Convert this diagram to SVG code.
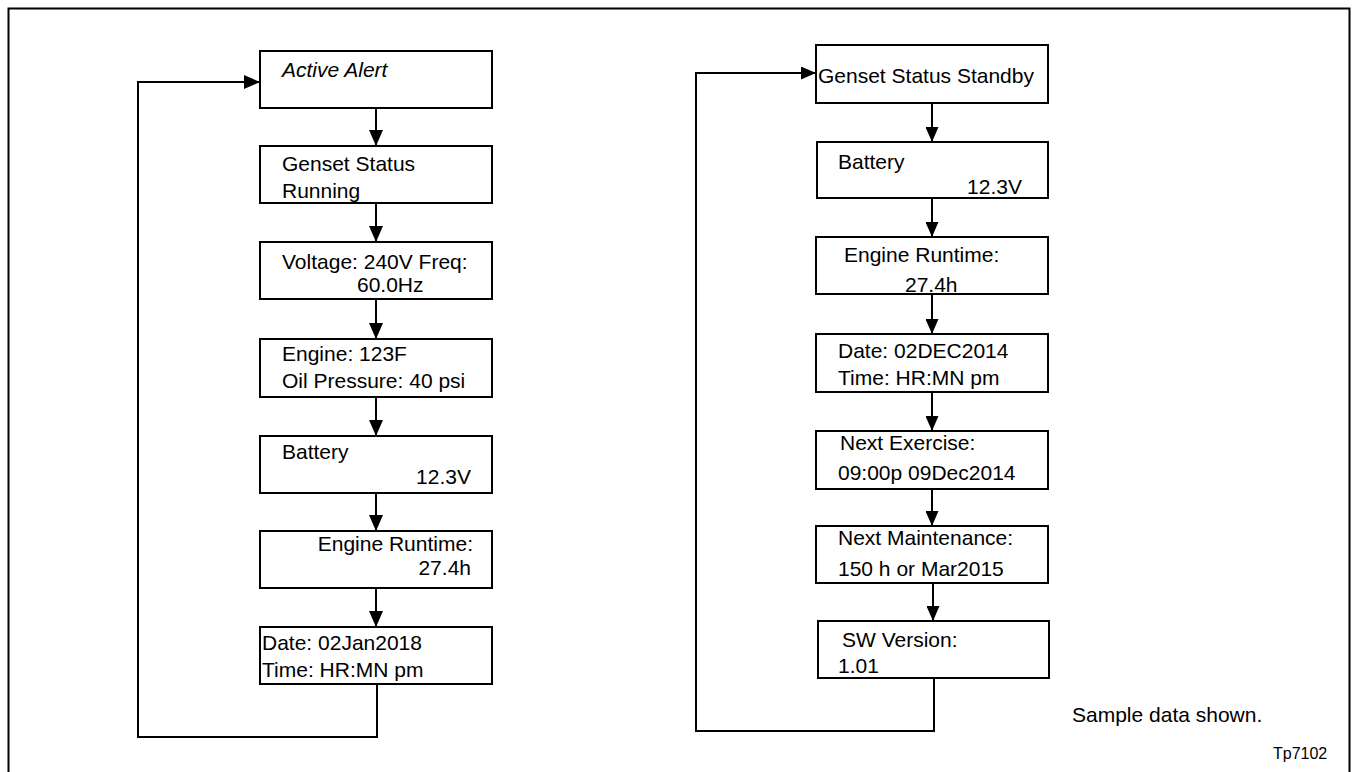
<svg xmlns="http://www.w3.org/2000/svg" width="1354" height="772" viewBox="0 0 1354 772">
<defs>
<style>
.box{fill:#fff;stroke:#000;stroke-width:2}
.t{font-family:"Liberation Sans",Arial,sans-serif;font-size:21px;fill:#000}
.it{font-style:italic}
.e{text-anchor:end}
.c{fill:none;stroke:#000;stroke-width:2}
</style>
<marker id="ah" viewBox="0 0 16 14" refX="16" refY="7" markerWidth="16" markerHeight="14" markerUnits="userSpaceOnUse" orient="auto">
<path d="M0,0 L16,7 L0,14 z" fill="#000"/>
</marker>
<marker id="ahs" viewBox="0 0 15 13" refX="15" refY="6.5" markerWidth="15" markerHeight="13" markerUnits="userSpaceOnUse" orient="auto">
<path d="M0,0 L15,6.5 L0,13 z" fill="#000"/>
</marker>
</defs>
<rect x="0" y="0" width="1354" height="772" fill="#fff"/>
<rect id="frame" x="8.5" y="8.5" width="1341" height="800" fill="none" stroke="#000" stroke-width="2"/>

<g id="connectors">
<path class="c" d="M376,108 V146" marker-end="url(#ah)"/>
<path class="c" d="M376,203 V242" marker-end="url(#ah)"/>
<path class="c" d="M376,299 V339" marker-end="url(#ah)"/>
<path class="c" d="M376,397 V436" marker-end="url(#ah)"/>
<path class="c" d="M376,493 V531" marker-end="url(#ah)"/>
<path class="c" d="M376,588 V627" marker-end="url(#ah)"/>
<path class="c" d="M377,684 V737 H138 V82 H260" marker-end="url(#ah)"/>
<path class="c" d="M932,103 V142" marker-end="url(#ahs)"/>
<path class="c" d="M932,198 V237" marker-end="url(#ahs)"/>
<path class="c" d="M932,294 V334" marker-end="url(#ahs)"/>
<path class="c" d="M932,392 V431" marker-end="url(#ahs)"/>
<path class="c" d="M932,489 V526" marker-end="url(#ahs)"/>
<path class="c" d="M933,583 V621" marker-end="url(#ahs)"/>
<path class="c" d="M934,678 V731 H696 V73 H816" marker-end="url(#ahs)"/>
</g>

<g id="n-active-alert">
<rect class="box" x="260" y="51" width="232" height="57"/>
<text class="t it" x="282" y="77">Active Alert</text>
</g>
<g id="n-genset-running">
<rect class="box" x="260" y="146" width="232" height="57"/>
<text class="t" x="282" y="171">Genset Status</text>
<text class="t" x="282" y="198">Running</text>
</g>
<g id="n-voltage">
<rect class="box" x="260" y="242" width="232" height="57"/>
<text class="t" x="282" y="269">Voltage: 240V Freq:</text>
<text class="t" x="357" y="292">60.0Hz</text>
</g>
<g id="n-engine">
<rect class="box" x="260" y="339" width="232" height="58"/>
<text class="t" x="282" y="361">Engine: 123F</text>
<text class="t" x="282" y="388">Oil Pressure: 40 psi</text>
</g>
<g id="n-battery-l">
<rect class="box" x="260" y="436" width="232" height="57"/>
<text class="t" x="282" y="459">Battery</text>
<text class="t e" x="471" y="484">12.3V</text>
</g>
<g id="n-runtime-l">
<rect class="box" x="260" y="531" width="232" height="57"/>
<text class="t e" x="473" y="551">Engine Runtime:</text>
<text class="t e" x="471" y="575">27.4h</text>
</g>
<g id="n-date-l">
<rect class="box" x="260" y="627" width="232" height="57"/>
<text class="t" x="262" y="650">Date: 02Jan2018</text>
<text class="t" x="262" y="677">Time: HR:MN pm</text>
</g>

<g id="n-genset-standby">
<rect class="box" x="816" y="45" width="232" height="58"/>
<text class="t" x="818" y="83">Genset Status Standby</text>
</g>
<g id="n-battery-r">
<rect class="box" x="817" y="142" width="231" height="56"/>
<text class="t" x="838" y="169">Battery</text>
<text class="t e" x="1022" y="194">12.3V</text>
</g>
<g id="n-runtime-r">
<rect class="box" x="816" y="237" width="232" height="57"/>
<text class="t" x="844" y="262">Engine Runtime:</text>
<text class="t" x="905" y="292">27.4h</text>
</g>
<g id="n-date-r">
<rect class="box" x="816" y="334" width="232" height="58"/>
<text class="t" x="838" y="358">Date: 02DEC2014</text>
<text class="t" x="838" y="385">Time: HR:MN pm</text>
</g>
<g id="n-exercise">
<rect class="box" x="816" y="431" width="232" height="58"/>
<text class="t" x="840" y="450">Next Exercise:</text>
<text class="t" x="838" y="480">09:00p 09Dec2014</text>
</g>
<g id="n-maintenance">
<rect class="box" x="816" y="526" width="232" height="57"/>
<text class="t" x="838" y="545">Next Maintenance:</text>
<text class="t" x="838" y="576">150 h or Mar2015</text>
</g>
<g id="n-sw">
<rect class="box" x="818" y="621" width="231" height="57"/>
<text class="t" x="842" y="647">SW Version:</text>
<text class="t" x="838" y="673">1.01</text>
</g>

<text class="t" x="1072" y="722">Sample data shown.</text>
<text class="t" style="font-size:16px" x="1273" y="759">Tp7102</text>
</svg>
